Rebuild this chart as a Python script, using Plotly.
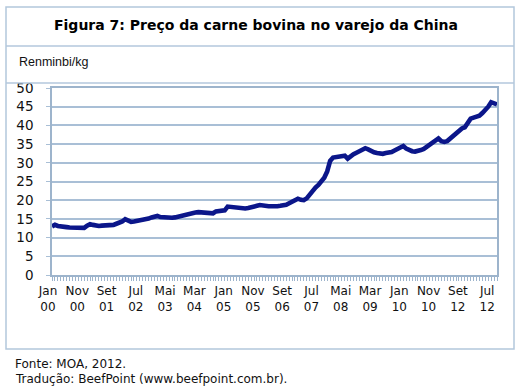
import plotly.graph_objects as go

# Monthly retail beef price in China, Jan 2000 .. Sep 2012 (Renminbi/kg)
prices = [
    13.0, 13.4, 13.1, 12.9, 12.8, 12.8, 12.7, 12.7, 12.8, 12.8,
    12.5, 12.6, 13.2, 13.6, 13.4, 13.2, 13.1, 13.2, 13.2, 13.1,
    13.2, 13.4, 13.7, 13.9, 14.3, 14.9, 14.4, 14.2, 14.3, 14.4,
    14.5, 14.6, 14.8, 15.1, 15.4, 15.7, 15.8, 15.5, 15.4, 15.4,
    15.5, 15.3, 15.4, 15.6, 15.8, 16.1, 16.4, 16.6, 16.6, 16.7,
    16.8, 16.7, 16.7, 16.8, 16.6, 16.5, 17.0, 17.1, 17.2, 17.3,
    18.3, 18.2, 17.9, 17.8, 17.8, 17.7, 17.8, 17.9, 18.0, 18.1,
    18.5, 18.7, 18.5, 18.4, 18.4, 18.4, 18.3, 18.4, 18.5, 18.6,
    18.8, 19.2, 19.6, 20.2, 20.4, 20.1, 20.0, 20.5, 21.5, 22.7,
    23.4, 24.1, 25.0, 26.0, 27.7, 30.5, 31.4, 31.6, 31.7, 31.8,
    31.9, 31.1, 31.8, 32.3, 32.7, 33.0, 33.3, 33.9, 33.6, 33.1,
    32.8, 32.6, 32.4, 32.4, 32.6, 32.7, 32.9, 33.3, 33.6, 34.1,
    34.5, 33.8, 33.3, 33.1, 33.0, 33.1, 33.4, 33.7, 34.2, 34.7,
    35.3, 35.9, 36.5, 35.8, 35.6, 35.8, 36.5, 37.2, 38.0, 38.7,
    39.2, 39.5, 40.5, 41.8, 42.1, 42.2, 42.6, 43.3, 44.0, 45.0,
    46.2, 46.0, 45.6,
]
month_index = list(range(len(prices)))

tick_positions = [0, 10, 20, 30, 40, 50, 60, 70, 80, 90, 100, 110, 120, 130, 140, 150]
tick_labels = ["Jan<br>00", "Nov<br>00", "Set<br>01", "Jul<br>02", "Mai<br>03",
               "Mar<br>04", "Jan<br>05", "Nov<br>05", "Set<br>06", "Jul<br>07",
               "Mai<br>08", "Mar<br>09", "Jan<br>10", "Nov<br>10", "Set<br>12",
               "Jul<br>12"]
y_ticks = [0, 5, 10, 15, 20, 25, 30, 35, 40, 45, 50]

title_text = "<b>Figura 7: Preço da carne bovina no varejo da China</b>"
unit_text = "Renminbi/kg"
source_lines = ["Fonte: MOA, 2012.", "Tradução: BeefPoint (www.beefpoint.com.br)."]

W, H = 523, 390
L, R, T, B = 52, 497, 88, 275  # plot area in pixels


def px(xp):
    return (xp - L) / (R - L)


def py(yp):
    return (B - yp) / (B - T)


fig = go.Figure()
fig.add_trace(go.Scatter(
    x=month_index, y=prices, mode="lines",
    line=dict(color="#0b168a", width=4.6),
    hoverinfo="skip", showlegend=False,
))

grid_col = "#a9bfd6"
axis_col = "#9db4cc"
box_col = "#b3c7dc"

fig.update_layout(
    width=W, height=H,
    margin=dict(l=L, r=W - R, t=T, b=H - B),
    paper_bgcolor="white", plot_bgcolor="white",
    font=dict(family="DejaVu Sans, Verdana, sans-serif", color="#111111"),
    xaxis=dict(
        range=[0, len(prices) - 1],
        tickmode="array", tickvals=tick_positions, ticktext=tick_labels,
        ticks="outside", ticklen=4, tickcolor=axis_col, tickwidth=1,
        ticklabelshift=-4, ticklabelstandoff=0,
        tickfont=dict(size=12, color="#111111"),
        showgrid=False, zeroline=False,
        showline=True, linecolor=axis_col, linewidth=1.5, mirror=True,
        minor=dict(dtick=1, tick0=0, ticks="outside", ticklen=4,
                   tickcolor=axis_col, tickwidth=1, showgrid=False),
        fixedrange=True,
    ),
    yaxis=dict(
        range=[0, 50], tickmode="array", tickvals=y_ticks,
        ticks="outside", ticklen=4, tickcolor=grid_col, tickwidth=1,
        ticklabelstandoff=10,
        tickfont=dict(size=13.5, color="#111111"),
        showgrid=True, gridcolor=grid_col, gridwidth=1.5,
        zeroline=False,
        showline=True, linecolor=axis_col, linewidth=1.5, mirror=True,
        fixedrange=True,
    ),
)

# outer frame and row separators
shapes = [
    dict(type="rect", xref="paper", yref="paper",
         x0=px(6), x1=px(514), y0=py(349), y1=py(7),
         line=dict(color=box_col, width=1.5), layer="below"),
    dict(type="line", xref="paper", yref="paper",
         x0=px(6), x1=px(514), y0=py(46), y1=py(46),
         line=dict(color=box_col, width=1.5)),
    dict(type="line", xref="paper", yref="paper",
         x0=px(6), x1=px(514), y0=py(83), y1=py(83),
         line=dict(color=box_col, width=1.5)),
]
fig.update_layout(shapes=shapes)

annotations = [
    dict(text=title_text, x=px(256), y=py(25), xref="paper", yref="paper",
         xanchor="center", yanchor="middle", showarrow=False,
         font=dict(size=14, family="DejaVu Sans, Verdana, sans-serif", color="#000000")),
    dict(text=unit_text, x=px(17), y=py(62), xref="paper", yref="paper",
         xanchor="left", yanchor="middle", showarrow=False,
         font=dict(size=12.5, family="Liberation Sans, Arial, sans-serif", color="#111111")),
    dict(text=source_lines[0], x=px(13), y=py(364), xref="paper", yref="paper",
         xanchor="left", yanchor="middle", showarrow=False,
         font=dict(size=12, color="#111111")),
    dict(text=source_lines[1], x=px(13), y=py(379), xref="paper", yref="paper",
         xanchor="left", yanchor="middle", showarrow=False,
         font=dict(size=12, color="#111111")),
]
fig.update_layout(annotations=annotations)

fig.write_html(
    "out.html",
    config={"displayModeBar": False},
    post_script="document.body.style.margin='0';document.body.style.overflow='hidden';",
)
